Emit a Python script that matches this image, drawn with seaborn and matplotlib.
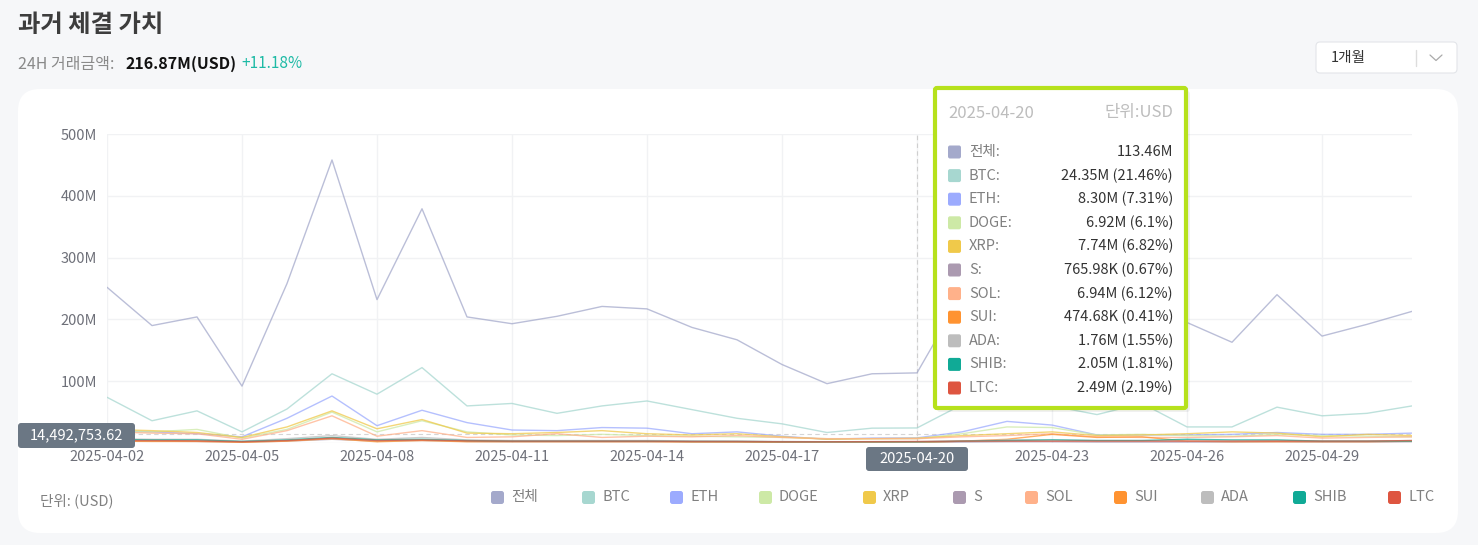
import matplotlib
matplotlib.use("Agg")
import matplotlib.pyplot as plt
from matplotlib.patches import FancyBboxPatch
from matplotlib.lines import Line2D
from matplotlib.transforms import IdentityTransform
import seaborn as sns
import pandas as pd
import numpy as np

W, H = 1478, 545

# 일별 데이터 (단위: 백만 USD)
dates = pd.date_range("2025-04-02", "2025-05-01", freq="D")
coins = ["전체", "BTC", "ETH", "DOGE", "XRP", "S", "SOL", "SUI", "ADA", "SHIB", "LTC"]
colors = ["#a4a9cb", "#a7d7d0", "#9cabfe", "#cde9a6", "#f0c94a", "#ab9ab0",
          "#ffb18a", "#ff9331", "#bdbdbd", "#10aa96", "#de5540"]

total = [252, 190, 204, 92, 258, 458, 232, 379, 204, 193, 205, 221, 217, 187, 167,
         127, 96, 112, 113.46, 240, 250, 215, 205, 225, 195, 163, 240, 173, 192, 213]
btc = [74, 36, 52, 18, 55, 112, 79, 122, 60, 64, 48, 60, 68, 54, 40,
       31, 17, 24, 24.35, 62, 78, 60, 46, 64, 26, 26, 58, 44, 48, 60]
eth = [20, 18, 15, 10, 40, 76, 28, 53, 33, 21, 20, 25, 24, 15, 18,
       11, 6, 8, 8.30, 18, 35, 29, 13, 13, 13, 14, 17, 14, 14, 16]
doge = [19, 18, 22, 8, 22, 50, 18, 36, 18, 13, 12, 14, 12, 11, 10,
        9, 7, 7, 6.92, 15, 26, 25, 13, 14, 12, 11, 14, 12, 11, 10]
xrp = [22, 20, 17, 9, 26, 52, 23, 38, 16, 15, 17, 20, 15, 13, 15,
       10, 6, 7, 7.74, 12, 15, 18, 12, 13, 15, 18, 16, 10, 14, 12]
s_coin = [3, 3, 2.5, 1.5, 3, 6, 3, 4, 2.5, 2, 2, 2, 2, 1.8, 1.5,
          1.2, 0.9, 0.8, 0.77, 1.5, 2, 2, 1.5, 1.5, 1.5, 1.5, 2, 1.5, 1.5, 2]
sol = [18, 16, 15, 6, 20, 44, 11, 20, 9, 10, 15, 9, 11, 10, 12,
       9, 7, 7, 6.94, 10, 12, 15, 10, 9, 9, 10, 12, 8, 9, 10]
sui = [3, 2.5, 2.5, 1, 3, 7, 2, 4, 2, 2, 2, 2, 2, 1.5, 1.5,
       1, 0.6, 0.5, 0.47, 3, 6, 14, 9, 10, 3, 2, 2, 2, 2, 3]
ada = [7, 6, 6, 3, 7, 12, 6, 9, 5, 4, 4, 4, 4, 3.5, 3,
       2.5, 2, 2, 1.76, 3, 5, 5, 4, 4, 3, 3, 4, 3, 3, 4]
shib = [6, 5, 5, 2.5, 5, 9, 5, 6, 4, 3, 3, 3, 3, 2.5, 2.5,
        2, 2, 2, 2.05, 3, 4, 5, 4, 4, 6, 5, 5, 3, 3, 3]
ltc = [4, 4, 3.5, 2, 4, 8, 4, 5, 3.5, 3, 3, 3, 3, 2.5, 2.5,
       2, 2, 2.2, 2.49, 3, 3, 3, 3, 3, 3, 3, 3, 3, 3, 4]

series = [total, btc, eth, doge, xrp, s_coin, sol, sui, ada, shib, ltc]

# 툴팁 (2025-04-20)
tip_date = "2025-04-20"
tip_values = ["113.46M", "24.35M (21.46%)", "8.30M (7.31%)", "6.92M (6.1%)",
              "7.74M (6.82%)", "765.98K (0.67%)", "6.94M (6.12%)", "474.68K (0.41%)",
              "1.76M (1.55%)", "2.05M (1.81%)", "2.49M (2.19%)"]
cross_value = 14492753.62

rows = []
for name, vals in zip(coins, series):
    for d, v in zip(dates, vals):
        rows.append({"date": d, "coin": name, "value": v * 1e6})
df = pd.DataFrame(rows)

sns.set_theme(style="white")
plt.rcParams["font.family"] = ["Noto Sans CJK KR", "DejaVu Sans"]

fig = plt.figure(figsize=(W / 100, H / 100), dpi=100, facecolor="#f6f7f9")


def box(x0, y0, x1, y1, r=3, **kw):
    # 픽셀 좌표 (위쪽 기준)로 둥근 사각형
    p = FancyBboxPatch((x0, H - y1), x1 - x0, y1 - y0,
                       boxstyle=f"round,pad=0,rounding_size={r}",
                       transform=IdentityTransform(), **kw)
    fig.add_artist(p)
    return p


def txt(x, y, s, **kw):
    kw.setdefault("va", "center")
    return fig.text(x / W, 1 - y / H, s, **kw)


# 카드 배경
box(18, 89, 1458, 533, r=22, fc="white", ec="none", zorder=-5)

# 제목
txt(18, 25, "과거 체결 가치", fontsize=17.5, fontweight="bold", color="#3d3d3d")
txt(18, 64, "24H 거래금액:", fontsize=11.5, color="#8a8a8a")
txt(125, 64, "216.87M(USD)", fontsize=11.5, fontweight="bold", color="#111111")
txt(241, 64, "+11.18%", fontsize=11, color="#1dbaa5")

# 드롭다운
box(1316, 42, 1457, 73, r=4, fc="white", ec="#e3e5e9", lw=0.8, zorder=2)
txt(1331, 58, "1개월", fontsize=10.5, color="#333333")
fig.add_artist(Line2D([1416 / W, 1416 / W], [1 - 50 / H, 1 - 66 / H], color="#dddddd", lw=1))
fig.add_artist(Line2D([1430 / W, 1436 / W, 1442 / W],
                      [1 - 55 / H, 1 - 60.5 / H, 1 - 55 / H], color="#aaaaaa", lw=0.9))

# 차트
ax = fig.add_axes([107 / W, 1 - 443 / H, (1412 - 107) / W, (443 - 134) / H])
ax.patch.set_alpha(0)
sns.lineplot(data=df, x="date", y="value", hue="coin", hue_order=coins,
             palette=colors, linewidth=1.0, alpha=0.75, legend=False, ax=ax)
ax.set_xlim(dates[0], dates[-1])
ax.set_ylim(0, 500e6)
yt = np.arange(0, 501e6, 100e6)
ax.set_yticks(yt)
# 0 라벨은 십자선 라벨에 가려져 보이지 않음
ax.set_yticklabels([f"{int(v / 1e6)}M" if v > 0 else "" for v in yt])
ax.set_xticks(dates[::3])
ax.set_xticklabels([d.strftime("%Y-%m-%d") for d in dates[::3]])
ax.tick_params(axis="both", length=0, labelsize=10.5, colors="#6e7079")
ax.tick_params(axis="y", pad=7)
ax.tick_params(axis="x", pad=5)
ax.grid(True, color="#f1f2f4", lw=1)
ax.set_xlabel("")
ax.set_ylabel("")
for sp in ax.spines.values():
    sp.set_visible(False)

# 십자선
ax.axvline(dates[18], color="#cfcfcf", lw=0.8, ls=(0, (4, 3)), zorder=1)
ax.axhline(cross_value, color="#d5d5d5", lw=0.8, ls=(0, (4, 3)), zorder=1)

box(18, 423, 135, 448, r=3, fc="#6b7784", ec="none", zorder=6)
txt(76, 435.5, f"{cross_value:,.2f}", fontsize=10.5, color="white", ha="center", zorder=7)
box(866, 447, 968, 471, r=3, fc="#6b7784", ec="none", zorder=6)
txt(917, 459, tip_date, fontsize=10.5, color="white", ha="center", zorder=7)

# 툴팁
box(937, 91, 1190, 412, r=3, fc="#000000", ec="none", alpha=0.06, zorder=8)
box(935, 88, 1186, 408, r=2, fc="white", ec="#b6e11c", lw=3, zorder=9)
txt(948, 113, tip_date, fontsize=12, color="#bdbdbd", zorder=10)
txt(1173, 113, "단위:USD", fontsize=12, color="#bdbdbd", ha="right", zorder=10)
for i, (name, col, val) in enumerate(zip(coins, colors, tip_values)):
    y = 152 + i * 23.6
    box(948, y - 6.5, 961, y + 6.5, r=2, fc=col, ec="none", zorder=10)
    txt(969, y, f"{name}:", fontsize=10.5, color="#808080", zorder=10)
    txt(1173, y, val, fontsize=10.5, color="#333333", ha="right", zorder=10)

# 범례
legend_x = [491, 582, 670, 759, 863, 953, 1025, 1114, 1201, 1293, 1388]
for name, col, lx in zip(coins, colors, legend_x):
    box(lx, 491, lx + 13, 504, r=2.5, fc=col, ec="none", zorder=3)
    txt(lx + 20, 497, name, fontsize=10.5, color="#808080", zorder=3)

txt(40, 501, "단위: (USD)", fontsize=10.5, color="#808080")

fig.savefig("out.png", dpi=100, facecolor=fig.get_facecolor())
